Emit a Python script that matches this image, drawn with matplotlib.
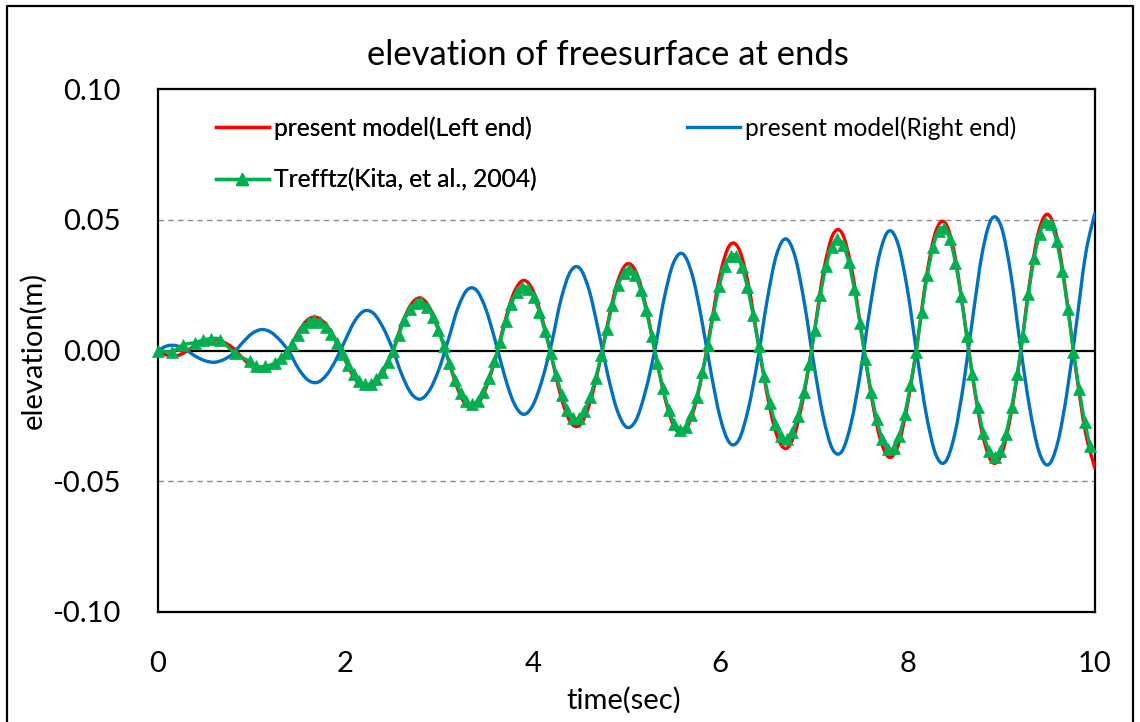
import numpy as np
import matplotlib
matplotlib.use("Agg")
import matplotlib.pyplot as plt
from matplotlib.path import Path
from matplotlib.patches import PathPatch
from matplotlib.lines import Line2D
from matplotlib.ticker import FormatStrFormatter

plt.rcParams['font.family'] = ['Lato', 'DejaVu Sans']

# ---- data -------------------------------------------------------------
# present model, sampled every 0.1 s from 0 to 10 s
time_model = np.linspace(0.0, 10.0, 101)

left_end = [
    0.0000, -0.0018, -0.0020, -0.0004, 0.0020, 0.0037, 0.0042, 0.0032, 0.0010, -0.0028,
    -0.0062, -0.0078, -0.0069, -0.0039, 0.0005, 0.0072, 0.0118, 0.0126, 0.0096, 0.0036,
    -0.0039, -0.0107, -0.0142, -0.0133, -0.0084, -0.0008, 0.0098, 0.0176, 0.0201, 0.0163,
    0.0075, -0.0039, -0.0149, -0.0213, -0.0211, -0.0144, -0.0033, 0.0108, 0.0222, 0.0268,
    0.0231, 0.0123, -0.0025, -0.0176, -0.0273, -0.0286, -0.0211, -0.0070, 0.0105, 0.0257,
    0.0330, 0.0302, 0.0180, 0.0003, -0.0167, -0.0285, -0.0315, -0.0248, -0.0105, 0.0093,
    0.0292, 0.0402, 0.0388, 0.0254, 0.0042, -0.0167, -0.0320, -0.0375, -0.0314, -0.0156,
    0.0061, 0.0297, 0.0441, 0.0449, 0.0318, 0.0090, -0.0147, -0.0328, -0.0408, -0.0362,
    -0.0204, 0.0020, 0.0280, 0.0455, 0.0489, 0.0372, 0.0139, -0.0117, -0.0321, -0.0426,
    -0.0399, -0.0250, -0.0023, 0.0254, 0.0457, 0.0520, 0.0422, 0.0194, -0.0084, -0.0316,
    -0.0451,
]

right_end = [
    0.0000, 0.0018, 0.0018, 0.0002, -0.0022, -0.0039, -0.0045, -0.0035, -0.0012, 0.0029,
    0.0064, 0.0080, 0.0071, 0.0040, -0.0005, -0.0070, -0.0113, -0.0122, -0.0093, -0.0035,
    0.0041, 0.0113, 0.0151, 0.0142, 0.0089, 0.0009, -0.0090, -0.0163, -0.0186, -0.0151,
    -0.0070, 0.0043, 0.0162, 0.0232, 0.0230, 0.0157, 0.0036, -0.0098, -0.0202, -0.0244,
    -0.0210, -0.0112, 0.0027, 0.0194, 0.0301, 0.0315, 0.0232, 0.0077, -0.0093, -0.0228,
    -0.0293, -0.0267, -0.0159, -0.0002, 0.0196, 0.0334, 0.0370, 0.0291, 0.0123, -0.0081,
    -0.0257, -0.0353, -0.0341, -0.0223, -0.0037, 0.0190, 0.0365, 0.0427, 0.0358, 0.0178,
    -0.0053, -0.0254, -0.0378, -0.0385, -0.0273, -0.0077, 0.0165, 0.0367, 0.0457, 0.0405,
    0.0229, -0.0017, -0.0245, -0.0397, -0.0427, -0.0325, -0.0122, 0.0139, 0.0380, 0.0505,
    0.0473, 0.0296, 0.0028, -0.0213, -0.0384, -0.0437, -0.0355, -0.0163, 0.0098, 0.0369,
    0.0527,
]

# Trefftz solution (Kita et al., 2004)
trefftz_t_start = [0.00, 0.15, 0.27, 0.39, 0.48, 0.57, 0.66, 0.82, 0.98, 1.05, 1.14, 1.25]
trefftz_v_start = [0.0000, -0.0004, 0.0022, 0.0030, 0.0040, 0.0045, 0.0042, -0.0010,
                   -0.0042, -0.0060, -0.0061, -0.0048]
# from 1.31 s onward the points are 0.06 s apart
trefftz_v_rest = [
    -0.0029, -0.0009, 0.0024, 0.0060, 0.0089, 0.0108, 0.0115, 0.0109, 0.0091, 0.0062, 0.0027,
    -0.0013, -0.0055, -0.0091, -0.0117, -0.0129, -0.0127, -0.0110, -0.0081, -0.0043,
    0.0000, 0.0061, 0.0116, 0.0157, 0.0181, 0.0184, 0.0166, 0.0130, 0.0079, 0.0019,
    -0.0048, -0.0111, -0.0162, -0.0194, -0.0205, -0.0192, -0.0158, -0.0106, -0.0042,
    0.0032, 0.0111, 0.0177, 0.0223, 0.0244, 0.0237, 0.0204, 0.0147, 0.0074,
    -0.0008, -0.0094, -0.0170, -0.0227, -0.0258, -0.0260, -0.0233, -0.0179, -0.0105, -0.0019,
    0.0081, 0.0175, 0.0250, 0.0297, 0.0310, 0.0288, 0.0233, 0.0153, 0.0055,
    -0.0049, -0.0145, -0.0226, -0.0280, -0.0303, -0.0292, -0.0248, -0.0176, -0.0084,
    0.0021, 0.0141, 0.0246, 0.0322, 0.0362, 0.0361, 0.0320, 0.0242, 0.0137, 0.0017,
    -0.0098, -0.0200, -0.0280, -0.0328, -0.0339, -0.0312, -0.0249, -0.0159, -0.0050,
    0.0080, 0.0214, 0.0323, 0.0396, 0.0425, 0.0405, 0.0340, 0.0236, 0.0106,
    -0.0033, -0.0157, -0.0263, -0.0339, -0.0378, -0.0373, -0.0327, -0.0243, -0.0132, -0.0006,
    0.0148, 0.0288, 0.0394, 0.0457, 0.0468, 0.0426, 0.0336, 0.0208, 0.0056,
    -0.0088, -0.0215, -0.0317, -0.0384, -0.0407, -0.0384, -0.0318, -0.0217, -0.0090,
    0.0057, 0.0216, 0.0352, 0.0447, 0.0492, 0.0482, 0.0417, 0.0305, 0.0159,
    -0.0005, -0.0147, -0.0273, -0.0367,
]
trefftz_t_rest = np.round(1.31 + 0.06 * np.arange(len(trefftz_v_rest)), 2)
trefftz_t = np.concatenate([trefftz_t_start, trefftz_t_rest])
trefftz_v = np.concatenate([trefftz_v_start, trefftz_v_rest])

x_ticks = [0, 2, 4, 6, 8, 10]
y_ticks = [-0.10, -0.05, 0.00, 0.05, 0.10]

RED = '#FF0000'
BLUE = '#0070C0'
GREEN = '#00B050'


def smooth_path(x, y):
    """Catmull-Rom style Bezier path through the points (smoothed line)."""
    x = np.asarray(x, float)
    y = np.asarray(y, float)
    px = np.concatenate([[x[0]], x, [x[-1]]])
    py = np.concatenate([[y[0]], y, [y[-1]]])
    verts = [(x[0], y[0])]
    codes = [Path.MOVETO]
    for i in range(len(x) - 1):
        p0 = np.array([px[i], py[i]])
        p1 = np.array([px[i + 1], py[i + 1]])
        p2 = np.array([px[i + 2], py[i + 2]])
        p3 = np.array([px[i + 3], py[i + 3]])
        c1 = p1 + (p2 - p0) / 6.0
        c2 = p2 - (p3 - p1) / 6.0
        verts += [tuple(c1), tuple(c2), tuple(p2)]
        codes += [Path.CURVE4] * 3
    return Path(verts, codes)


# ---- figure -----------------------------------------------------------
W, H = 1140, 722
fig = plt.figure(figsize=(W / 100, H / 100), dpi=100)
L, R, T, B = 158, 1095, 89, 612
ax = fig.add_axes([L / W, 1 - B / H, (R - L) / W, (B - T) / H])

ax.set_xlim(0, 10)
ax.set_ylim(-0.10, 0.10)
ax.set_xticks(x_ticks)
ax.set_yticks(y_ticks)
ax.yaxis.set_major_formatter(FormatStrFormatter('%.2f'))
ax.tick_params(axis='both', length=0, labelsize=21, colors='black')
ax.tick_params(axis='y', pad=27)
ax.tick_params(axis='x', pad=28)
for s in ax.spines.values():
    s.set_linewidth(1.6)
    s.set_color('black')

# dashed gridlines and the zero line
for g in (0.05, -0.05):
    ax.axhline(g, color='#8C8C8C', lw=1.0, ls=(0, (4, 3)), zorder=1)
ax.axhline(0, color='black', lw=1.6, zorder=1.5)

# series
LW = 2.4
MS = 9
ax.add_patch(PathPatch(smooth_path(time_model, left_end), fill=False,
                       edgecolor=RED, lw=LW, zorder=3, capstyle='round'))
ax.add_patch(PathPatch(smooth_path(time_model, right_end), fill=False,
                       edgecolor=BLUE, lw=LW, zorder=3, capstyle='round'))
ax.add_patch(PathPatch(smooth_path(trefftz_t, trefftz_v), fill=False,
                       edgecolor=GREEN, lw=LW, zorder=4, capstyle='round'))
ax.plot(trefftz_t, trefftz_v, ls='none', marker='^', ms=MS, color=GREEN,
        mec=GREEN, mew=0.5, zorder=5, clip_on=False)

# legend
LEG_FS = 17.7
h_left = Line2D([], [], color=RED, lw=LW)
h_right = Line2D([], [], color=BLUE, lw=LW)
h_tr = Line2D([], [], color=GREEN, lw=LW, marker='^', ms=MS)
leg1 = fig.legend([h_left, h_tr],
                  ['present model(Left end)', 'Trefftz(Kita, et al., 2004)'],
                  loc='center left', bbox_to_anchor=(216 / W, 1 - 154 / H),
                  frameon=False, fontsize=LEG_FS, handlelength=2.15, handletextpad=0.2,
                  borderpad=0, borderaxespad=0, labelspacing=1.15, numpoints=1)
fig.legend([h_right], ['present model(Right end)'],
           loc='center left', bbox_to_anchor=(687 / W, 1 - 128 / H),
           frameon=False, fontsize=LEG_FS, handlelength=2.15, handletextpad=0.2,
           borderpad=0, borderaxespad=0)
fig.add_artist(leg1)

# titles
fig.text(608 / W, 1 - 55 / H, 'elevation of freesurface at ends', ha='center',
         va='center', fontsize=24.9)
fig.text(33 / W, 1 - 350 / H, 'elevation(m)', ha='center', va='center',
         rotation=90, fontsize=21)
fig.text(624 / W, 1 - 700 / H, 'time(sec)', ha='center', va='center', fontsize=21)

# outer chart frame
fig.add_artist(Line2D([7 / W, 7 / W, 1133 / W, 1133 / W], [0, 1 - 6 / H, 1 - 6 / H, 0],
                      transform=fig.transFigure, color='black', lw=1.6))

fig.savefig('out.png', dpi=100)
